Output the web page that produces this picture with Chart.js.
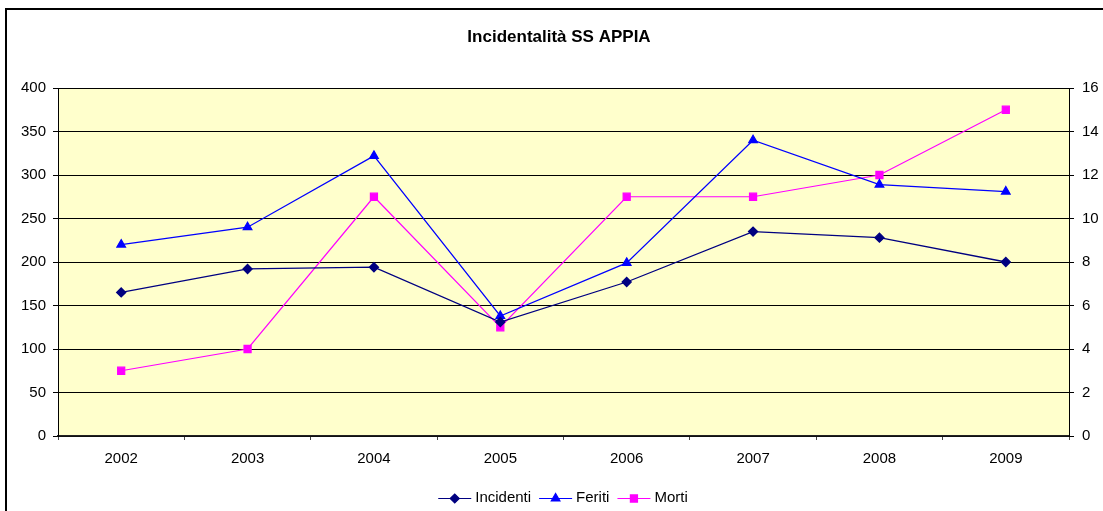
<!DOCTYPE html>
<html>
<head>
<meta charset="utf-8">
<script src="https://cdn.jsdelivr.net/npm/chart.js@4.4.1/dist/chart.umd.min.js"></script>
<style>
  html, body { margin: 0; padding: 0; background: #fff; overflow: hidden; }
  #frame { position: absolute; left: 5px; top: 8px; width: 1200px; height: 600px;
           border-left: 2px solid #000; border-top: 2px solid #000; }
  #wrap { position: absolute; left: 0; top: 0; width: 1103px; height: 511px; }
</style>
</head>
<body>
<div id="frame"></div>
<div id="wrap"><canvas id="chartOne" width="1103" height="511"></canvas></div>
<script>
// data
const years = ["2002", "2003", "2004", "2005", "2006", "2007", "2008", "2009"];
const incidenti = [165, 192, 194, 131, 177, 235, 228, 200];
const feriti = [220, 240, 322, 138, 199, 340, 289, 281];
const morti = [3, 4, 11, 5, 11, 11, 12, 15];
const leftAxis = { min: 0, max: 400, step: 50 };
const rightAxis = { min: 0, max: 16, step: 2 };

const FONT = "'Liberation Sans', Arial, sans-serif";

// yellow plot background
const plotBg = {
  id: "plotBg",
  beforeDraw(chart) {
    const a = chart.chartArea;
    const ctx = chart.ctx;
    ctx.save();
    ctx.fillStyle = "#FFFFCC";
    ctx.fillRect(a.left, a.top, a.right - a.left, a.bottom - a.top);
    ctx.restore();
  }
};

// title + Excel style legend (line with marker through it)
const extras = {
  id: "extras",
  afterDraw(chart) {
    const ctx = chart.ctx;
    ctx.save();
    ctx.fillStyle = "#000";
    ctx.font = "bold 17px " + FONT;
    ctx.textAlign = "center";
    ctx.textBaseline = "middle";
    ctx.fillText("Incidentalità SS APPIA", 559, 37);

    ctx.font = "15px " + FONT;
    const lineLen = 33, gapText = 4, gapItem = 8;
    const sets = chart.data.datasets;
    let total = 0;
    sets.forEach((d, i) => {
      total += lineLen + gapText + ctx.measureText(d.label).width;
      if (i < sets.length - 1) total += gapItem;
    });
    let x = 563 - total / 2;
    const y = 498;
    ctx.textAlign = "left";
    sets.forEach(d => {
      ctx.strokeStyle = d.borderColor;
      ctx.lineWidth = 1.2;
      ctx.beginPath();
      ctx.moveTo(x, y + 0.5);
      ctx.lineTo(x + lineLen, y + 0.5);
      ctx.stroke();
      ctx.fillStyle = d.pointBackgroundColor;
      ctx.strokeStyle = d.pointBorderColor;
      Chart.helpers.drawPoint(ctx, {
        pointStyle: d.pointStyle, radius: d.pointRadius, rotation: 0, borderWidth: 1
      }, x + lineLen / 2, y + 0.5);
      x += lineLen + gapText;
      ctx.fillStyle = "#000";
      ctx.fillText(d.label, x, y);
      x += ctx.measureText(d.label).width + gapItem;
    });
    ctx.restore();
  }
};

const tickFont = { family: FONT, size: 15 };

new Chart(document.getElementById("chartOne"), {
  type: "line",
  data: {
    labels: years,
    datasets: [
      {
        label: "Incidenti",
        data: incidenti,
        yAxisID: "y",
        borderColor: "#000080",
        borderWidth: 1.3,
        pointStyle: "rectRot",
        pointRadius: 4.5,
        pointBackgroundColor: "#000080",
        pointBorderColor: "#000080",
        tension: 0
      },
      {
        label: "Feriti",
        data: feriti,
        yAxisID: "y",
        borderColor: "#0000FF",
        borderWidth: 1.2,
        pointStyle: "triangle",
        pointRadius: 5,
        pointBackgroundColor: "#0000FF",
        pointBorderColor: "#0000FF",
        tension: 0
      },
      {
        label: "Morti",
        data: morti,
        yAxisID: "y1",
        borderColor: "#FF00FF",
        borderWidth: 1.2,
        pointStyle: "rect",
        pointRadius: 5,
        pointBackgroundColor: "#FF00FF",
        pointBorderColor: "#FF00FF",
        tension: 0
      }
    ]
  },
  options: {
    responsive: false,
    animation: false,
    layout: { padding: { top: 88, left: 0, right: 0, bottom: 0 } },
    plugins: {
      legend: { display: false },
      title: { display: false },
      tooltip: { enabled: false }
    },
    scales: {
      x: {
        offset: true,
        grid: { offset: true, drawOnChartArea: false, tickLength: 4, color: "#444" },
        border: { color: "#222", width: 1.5 },
        ticks: { color: "#000", font: tickFont, padding: 10, maxRotation: 0 },
        afterFit(s) { s.height = 75; }
      },
      y: {
        position: "left",
        min: leftAxis.min,
        max: leftAxis.max,
        ticks: { stepSize: leftAxis.step, color: "#000", font: tickFont, padding: 7 },
        grid: { color: "#000", tickLength: 5 },
        border: { color: "#000", width: 1 },
        afterFit(s) { s.width = 58; }
      },
      y1: {
        position: "right",
        min: rightAxis.min,
        max: rightAxis.max,
        ticks: { stepSize: rightAxis.step, color: "#000", font: tickFont, padding: 8 },
        grid: { drawOnChartArea: false, tickLength: 5, color: "#000" },
        border: { color: "#000", width: 1 },
        afterFit(s) { s.width = 34; }
      }
    }
  },
  plugins: [plotBg, extras]
});
</script>
</body>
</html>
